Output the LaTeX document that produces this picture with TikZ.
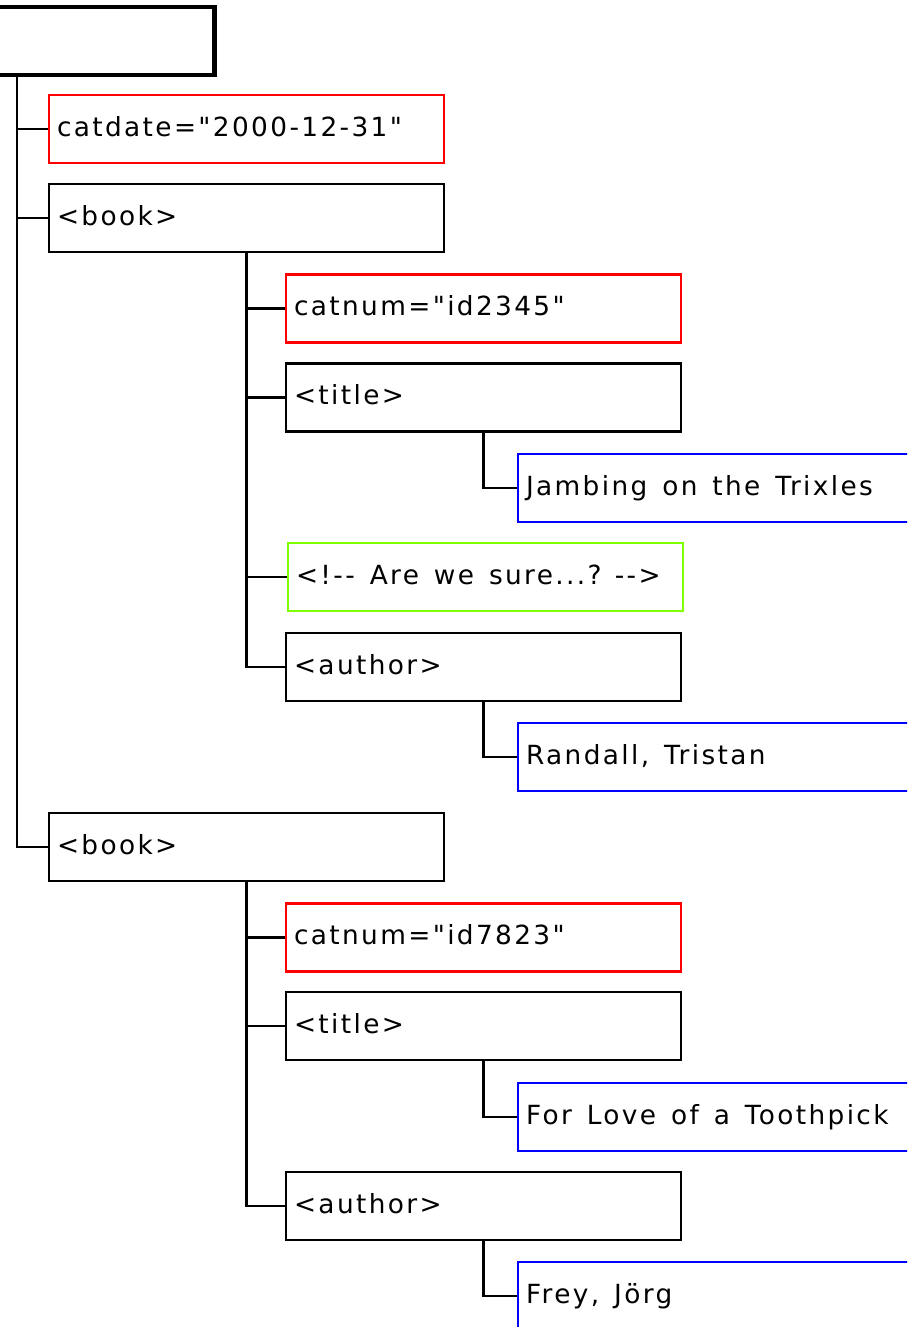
\documentclass[tikz,border=0pt]{standalone}
\usepackage{fontspec}
\newfontfamily\xmlfont{DejaVu Sans}[LetterSpace=9]
\definecolor{cmtgreen}{RGB}{128,255,0}

\begin{document}
\begin{tikzpicture}[x=0.02cm,y=-0.02cm,
    box/.style={rectangle,line width=1.2pt,minimum width=7.9cm,minimum height=1.36cm,
        text width=7.58cm,inner xsep=0.16cm,align=left,text height=8.2pt,text depth=0pt,
        font=\xmlfont\fontsize{15pt}{18pt}\selectfont,
        execute at begin node={\spaceskip=8.5pt\relax}},
    elem/.style={box,draw=black},
    attr/.style={box,draw=red},
    txt/.style={box,draw=blue},
    cmt/.style={box,draw=cmtgreen},
    link/.style={line width=1.2pt}]
    \useasboundingbox (0,0) rectangle (907,1327);
    \clip (0,0) rectangle (907,1327);
                    \path
                    (17,41) node[elem,line width=2.6pt](root) {}
                    (246.5,129) node[attr](catdate) {catdate="2000-12-31"}
                    (246.5,218) node[elem](book1) {<book>}
                    (483.5,308.5) node[attr](catnum1) {catnum="id2345"}
                    (483.5,397.5) node[elem](title1) {<title>}
                    (715.5,488) node[txt](title1txt) {Jambing on the Trixles}
                    (485.5,577) node[cmt](comment) {<!-- Are we sure...? -->}
                    (483.5,667) node[elem](author1) {<author>}
                    (715.5,757) node[txt](author1txt) {Randall, Tristan}
                    (246.5,847) node[elem](book2) {<book>}
                    (483.5,937.5) node[attr](catnum2) {catnum="id7823"}
                    (483.5,1026) node[elem](title2) {<title>}
                    (715.5,1117) node[txt](title2txt) {For Love of a Toothpick}
                    (483.5,1206) node[elem](author2) {<author>}
                    (715.5,1296) node[txt](author2txt) {Frey, Jörg};

                    \draw[link] (root.south) |- (catdate.west);
                    \draw[link] (root.south) |- (book1.west);
                    \draw[link] (root.south) |- (book2.west);
                    \draw[link] (book1.south) |- (catnum1.west);
                    \draw[link] (book1.south) |- (title1.west);
                    \draw[link] (book1.south) |- (comment.west);
                    \draw[link] (book1.south) |- (author1.west);
                    \draw[link] (title1.south) |- (title1txt.west);
                    \draw[link] (author1.south) |- (author1txt.west);
                    \draw[link] (book2.south) |- (catnum2.west);
                    \draw[link] (book2.south) |- (title2.west);
                    \draw[link] (book2.south) |- (author2.west);
                    \draw[link] (title2.south) |- (title2txt.west);
                    \draw[link] (author2.south) |- (author2txt.west);
                \end{tikzpicture}
\end{document}
